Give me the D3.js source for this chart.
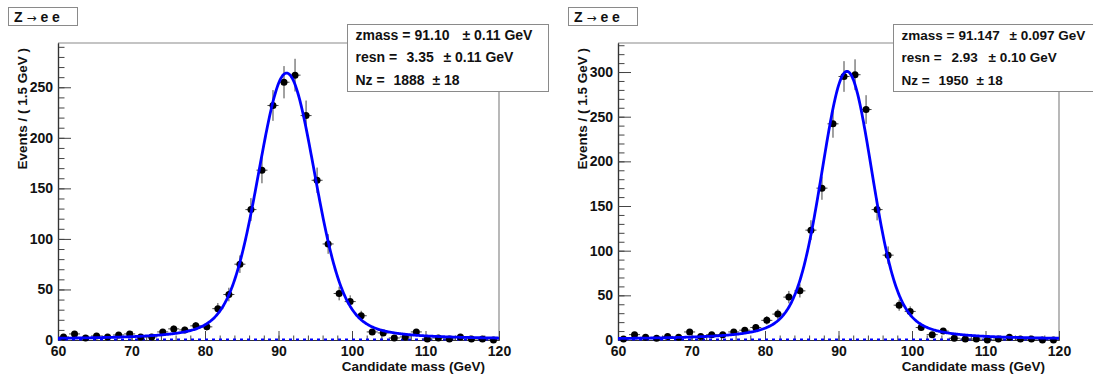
<!DOCTYPE html>
<html>
<head>
<meta charset="utf-8">
<script src="https://cdn.jsdelivr.net/npm/d3@7"></script>
<style>
  html, body { margin: 0; padding: 0; background: #fff; }
  svg { display: block; font-family: "Liberation Sans", Arial, Helvetica, sans-serif; font-weight: bold; }
</style>
</head>
<body>
<svg id="chart" width="1093" height="374"></svg>
<script>
// ---- Data: Z -> ee candidate mass histograms (1.5 GeV bins, 60-120 GeV) ----
const binCenters = [
  60.75, 62.25, 63.75, 65.25, 66.75, 68.25, 69.75, 71.25, 72.75, 74.25,
  75.75, 77.25, 78.75, 80.25, 81.75, 83.25, 84.75, 86.25, 87.75, 89.25,
  90.75, 92.25, 93.75, 95.25, 96.75, 98.25, 99.75, 101.25, 102.75, 104.25,
  105.75, 107.25, 108.75, 110.25, 111.75, 113.25, 114.75, 116.25, 117.75, 119.25
];
const countsA = [
  3, 6, 2, 4, 3, 5, 6, 3, 3, 8,
  11, 10, 14, 13, 31, 45, 75, 129, 168, 232,
  255, 262, 222, 158, 95, 46, 38, 24, 8, 7,
  2, 3, 8, 1, 2, 1, 3, 1, 1, 0
];
const countsB = [
  1, 6, 3, 2, 4, 3, 9, 4, 6, 6,
  9, 11, 14, 22, 29, 48, 55, 123, 170, 242,
  295, 297, 258, 146, 95, 39, 32, 14, 6, 10,
  2, 1, 1, 0, 1, 3, 1, 1, 0, 0
];

// Fit results (Breit-Wigner (x) Gaussian resolution + flat background)
const paramNames  = ["zmass", "resn", "Nz"];
const paramUnits  = [" GeV", " GeV", ""];
const fitValuesA  = ["91.10", "3.35", "1888"];
const fitErrorsA  = ["0.11", "0.11", "18"];
const fitValuesB  = ["91.147", "2.93", "1950"];
const fitErrorsB  = ["0.097", "0.10", "18"];
const bkgEventsA  = 20;
const bkgEventsB  = 19;
const zWidth      = 2.4952;   // Z natural width (GeV)

const xTickValues  = [60, 70, 80, 90, 100, 110, 120];
const yTickValuesA = [0, 50, 100, 150, 200, 250];
const yTickValuesB = [0, 50, 100, 150, 200, 250, 300];

const titleParts = ["Z ", "\u2192", " e e"];
const xTitleText = "Candidate mass (GeV)";
const yTitleText = "Events / ( 1.5 GeV )";

// ---- Model ----
const massLo = 60, massHi = 120, binWidth = 1.5;

function voigtShape(x, m, sigma, gamma) {
  const hw = gamma / 2;
  const n = 240, tmax = 7 * sigma, dt = 2 * tmax / n;
  let s = 0;
  for (let i = 0; i <= n; i++) {
    const t = -tmax + i * dt;
    const g = Math.exp(-t * t / (2 * sigma * sigma));
    const u = x - m - t;
    const bw = hw / Math.PI / (u * u + hw * hw);
    s += (i === 0 || i === n ? 0.5 : 1) * g * bw;
  }
  return s * dt / (sigma * Math.sqrt(2 * Math.PI));
}

function modelCurve(mass, resn, nSig, nBkg) {
  // normalise the signal shape inside the fit range
  let norm = 0;
  const step = 0.05;
  for (let x = massLo; x <= massHi + 1e-9; x += step) norm += voigtShape(x, mass, resn, zWidth) * step;
  const bkgPerBin = nBkg * binWidth / (massHi - massLo);
  const pts = [];
  for (let i = 0; i <= 600; i++) {
    const x = massLo + (massHi - massLo) * i / 600;
    pts.push([x, nSig * binWidth * voigtShape(x, mass, resn, zWidth) / norm + bkgPerBin]);
  }
  return { pts, bkgPerBin };
}

// ---- Drawing ----
const svg = d3.select("#chart");
const ink = "#111";

function drawPanel(cfg) {
  const g = svg.append("g").attr("transform", `translate(${cfg.ox},0)`);
  const left = 58, right = 499, top = 43, bottom = 340;

  const x = d3.scaleLinear().domain([massLo, massHi]).range([left, right]);
  const y = d3.scaleLinear().domain([0, cfg.yMax]).range([bottom, top]);

  // frame (top and right edges)
  g.append("path")
    .attr("d", `M${left},${top}H${right}V${bottom}`)
    .attr("fill", "none").attr("stroke", "#8a8a8a").attr("stroke-width", 1.2);

  // minor ticks
  const xMinor = d3.axisBottom(x).tickValues(d3.range(60, 121, 2)).tickSizeInner(-4.5).tickSizeOuter(0).tickFormat("");
  const yMinor = d3.axisLeft(y).tickValues(d3.range(0, cfg.yMax, 10)).tickSizeInner(-6.5).tickSizeOuter(0).tickFormat("");
  g.append("g").attr("transform", `translate(0,${bottom})`).call(xMinor);
  g.append("g").attr("transform", `translate(${left},0)`).call(yMinor);

  // major ticks + labels
  const xAxis = d3.axisBottom(x).tickValues(xTickValues).tickSizeInner(-9).tickSizeOuter(0).tickPadding(5).tickFormat(d3.format("d"));
  const yAxis = d3.axisLeft(y).tickValues(cfg.yTicks).tickSizeInner(-13).tickSizeOuter(0).tickPadding(5).tickFormat(d3.format("d"));
  const gx = g.append("g").attr("transform", `translate(0,${bottom})`).call(xAxis);
  const gy = g.append("g").attr("transform", `translate(${left},0)`).call(yAxis);
  [gx, gy].forEach(a => {
    a.selectAll("text").attr("font-size", 14).attr("font-weight", "bold")
      .attr("font-family", "Liberation Sans, Arial, sans-serif").attr("fill", ink);
  });
  gx.selectAll("text").attr("dy", "0.78em");
  g.selectAll(".tick line").attr("stroke", "#444");
  g.selectAll(".domain").attr("stroke", "#333").attr("stroke-width", 1.2);

  // axis titles
  g.append("text").attr("x", 485).attr("y", 371).attr("text-anchor", "end")
    .attr("font-size", 13.5).attr("fill", ink).text(xTitleText);
  g.append("text").attr("transform", "translate(27,48) rotate(-90)").attr("text-anchor", "end")
    .attr("font-size", 13.5).attr("fill", ink).text(yTitleText);

  // fit model
  const model = modelCurve(+cfg.values[0], +cfg.values[1], +cfg.values[2], cfg.nBkg);
  const clip = "clip" + cfg.ox;
  g.append("clipPath").attr("id", clip).append("rect")
    .attr("x", left).attr("y", top).attr("width", right - left).attr("height", bottom - top);

  // background component (dashed)
  g.append("path")
    .attr("d", d3.line()([[x(massLo), y(model.bkgPerBin)], [x(massHi), y(model.bkgPerBin)]]))
    .attr("fill", "none").attr("stroke", "#0000ff").attr("stroke-width", 2)
    .attr("stroke-dasharray", "3,4");

  // data points with errors
  const pts = g.append("g");
  binCenters.forEach((c, i) => {
    const n = cfg.counts[i];
    const e = Math.sqrt(n);
    pts.append("line").attr("x1", x(c - binWidth / 2)).attr("x2", x(c + binWidth / 2))
      .attr("y1", y(n)).attr("y2", y(n)).attr("stroke", "#444").attr("stroke-width", 1);
    if (n > 0) {
      pts.append("line").attr("x1", x(c)).attr("x2", x(c))
        .attr("y1", y(n - e)).attr("y2", y(n + e)).attr("stroke", "#444").attr("stroke-width", 1);
    }
    pts.append("circle").attr("cx", x(c)).attr("cy", y(n)).attr("r", 3.5).attr("fill", "#000");
  });

  // total fit curve
  g.append("path")
    .attr("clip-path", `url(#${clip})`)
    .attr("d", d3.line().x(d => x(d[0])).y(d => y(d[1]))(model.pts))
    .attr("fill", "none").attr("stroke", "#0000ff").attr("stroke-width", 2.8);

  // title box
  g.append("rect").attr("x", 8.5).attr("y", 7.5).attr("width", 69).attr("height", 18)
    .attr("fill", "#fff").attr("stroke", "#8a8a8a").attr("stroke-width", 1);
  const tt = g.append("text").attr("x", 14).attr("y", 21.5).attr("font-size", 14).attr("fill", ink);
  tt.append("tspan").text(titleParts[0]);
  tt.append("tspan").attr("font-family", "DejaVu Sans").attr("font-size", 12)
    .attr("font-weight", "normal").text(titleParts[1]);
  tt.append("tspan").text(titleParts[2]);

  // parameter box
  const bx = cfg.box.x, by = 24.5, bw = cfg.box.w, bh = 67;
  g.append("rect").attr("x", bx).attr("y", by).attr("width", bw).attr("height", bh)
    .attr("fill", "#fff").attr("stroke", "#8a8a8a").attr("stroke-width", 1);
  const baselines = [39.5, 62, 84.5];
  paramNames.forEach((name, i) => {
    const t = g.append("text").attr("y", baselines[i]).attr("font-size", cfg.box.fs).attr("fill", ink);
    t.append("tspan").attr("x", bx + 8).text(name + " =");
    t.append("tspan").attr("x", bx + cfg.box.valueX[i]).text(cfg.values[i]);
    t.append("tspan").attr("x", bx + cfg.box.errX[i]).text("\u00b1 " + cfg.errors[i] + paramUnits[i]);
  });
}

drawPanel({
  ox: 0, yMax: 293.8, yTicks: yTickValuesA, counts: countsA,
  values: fitValuesA, errors: fitErrorsA, nBkg: bkgEventsA,
  box: { x: 347.5, w: 201, fs: 14, valueX: [67, 59, 46], errX: [115, 96, 85] }
});
drawPanel({
  ox: 560, yMax: 332.5, yTicks: yTickValuesB, counts: countsB,
  values: fitValuesB, errors: fitErrorsB, nBkg: bkgEventsB,
  box: { x: 333.5, w: 240, fs: 13.5, valueX: [65, 58, 45], errX: [116, 95, 83] }
});
</script>
</body>
</html>
